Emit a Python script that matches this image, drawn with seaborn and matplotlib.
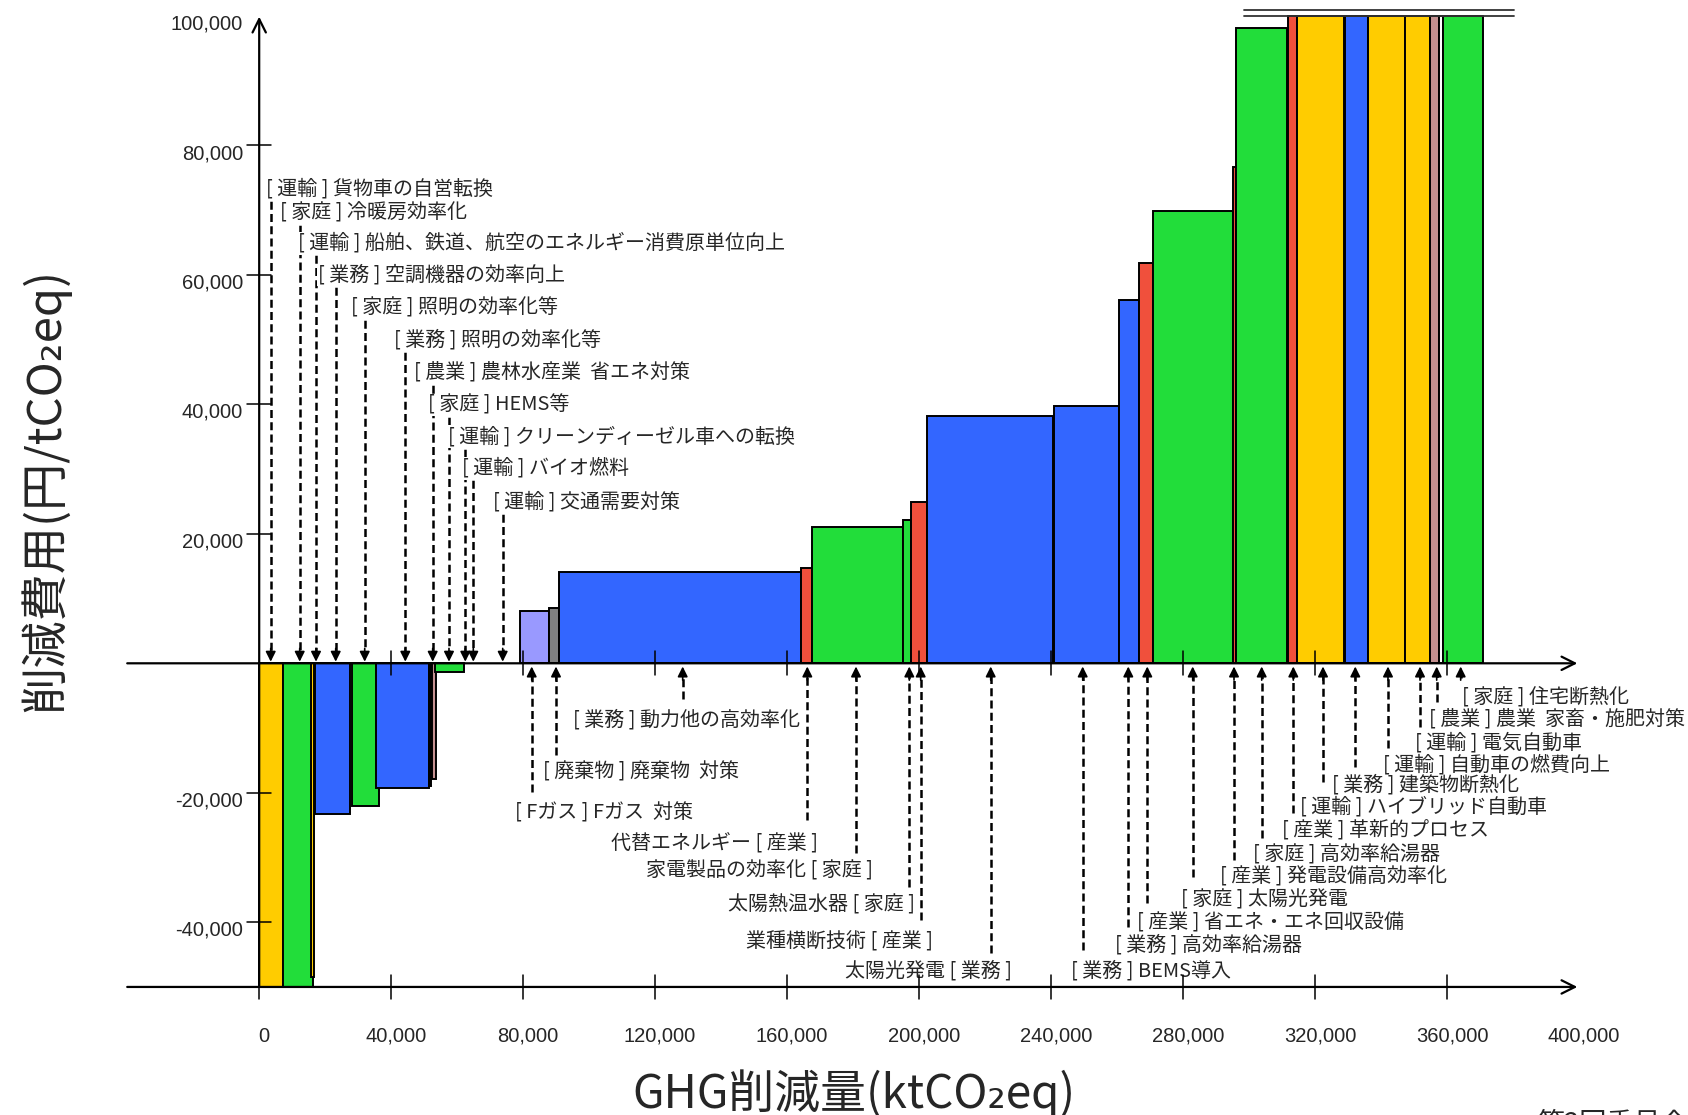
import matplotlib
matplotlib.use("Agg")
import matplotlib.pyplot as plt
import numpy as np
import pandas as pd
import seaborn as sns

# ---------------- data ----------------
# cumulative left edge of each measure (ktCO2eq), its reduction (ktCO2eq), its cost (yen/tCO2eq), sector
bar_left = [0, 7300, 15800, 17000, 28100, 35400, 51400, 52400, 53200,
            79000, 87900, 91000, 164200, 167500, 195200, 197400, 202500,
            240900, 260500, 266600, 270800, 295000, 296000, 311900, 314500,
            329200, 336100, 347400, 354900, 357700, 358700]
bar_reduction = [7300, 8900, 800, 10500, 8300, 16000, 800, 1200, 8900,
                 8900, 3100, 73200, 3300, 27700, 2200, 5100, 38000,
                 19600, 6100, 4200, 24200, 1000, 15600, 2600, 14300,
                 6900, 11300, 7500, 2800, 1000, 12300]
bar_cost = [-50000, -50000, -48400, -23300, -22100, -19300, -19000, -17900, -1300,
            8100, 8600, 14100, 14800, 21100, 22100, 24900, 38200,
            39800, 56100, 61800, 69900, 76600, 98100, 100000, 100000,
            100000, 100000, 100000, 100000, 100000, 100000]
bar_sector = ["運輸", "家庭", "運輸", "業務", "家庭", "業務", "その他", "農業", "家庭",
              "Fガス", "廃棄物", "業務", "産業", "家庭", "家庭", "産業", "業務",
              "業務", "業務", "産業", "家庭", "産業", "家庭", "産業", "運輸",
              "業務", "運輸", "運輸", "農業", "空白", "家庭"]

sector_colors = {"運輸": "#FFCC00", "家庭": "#22DD3A", "業務": "#3366FF",
                 "産業": "#F0503C", "Fガス": "#9999FF", "廃棄物": "#808080",
                 "農業": "#C49090", "その他": "#1A1A1A", "空白": "#FFFFFF"}

x_ticks = [0, 40000, 80000, 120000, 160000, 200000, 240000, 280000, 320000, 360000, 400000]
y_ticks = [-40000, -20000, 20000, 40000, 60000, 80000, 100000]

top_labels = ["[ 運輸 ] 貨物車の自営転換", "[ 家庭 ] 冷暖房効率化",
              "[ 運輸 ] 船舶、鉄道、航空のエネルギー消費原単位向上",
              "[ 業務 ] 空調機器の効率向上", "[ 家庭 ] 照明の効率化等",
              "[ 業務 ] 照明の効率化等", "[ 農業 ] 農林水産業  省エネ対策",
              "[ 家庭 ] HEMS等", "[ 運輸 ] クリーンディーゼル車への転換",
              "[ 運輸 ] バイオ燃料", "[ 運輸 ] 交通需要対策"]
bottom_labels = ["[ 業務 ] 動力他の高効率化", "[ 廃棄物 ] 廃棄物  対策", "[ Fガス ] Fガス  対策",
                 "代替エネルギー [ 産業 ]", "家電製品の効率化 [ 家庭 ]", "太陽熱温水器 [ 家庭 ]",
                 "業種横断技術 [ 産業 ]", "太陽光発電 [ 業務 ]", "[ 業務 ] BEMS導入",
                 "[ 業務 ] 高効率給湯器", "[ 産業 ] 省エネ・エネ回収設備", "[ 家庭 ] 太陽光発電",
                 "[ 産業 ] 発電設備高効率化", "[ 家庭 ] 高効率給湯器", "[ 産業 ] 革新的プロセス",
                 "[ 運輸 ] ハイブリッド自動車", "[ 業務 ] 建築物断熱化", "[ 運輸 ] 自動車の燃費向上",
                 "[ 運輸 ] 電気自動車", "[ 農業 ] 農業  家畜・施肥対策", "[ 家庭 ] 住宅断熱化"]

# ---------------- layout (annotation positions) ----------------
top_label_x = [1970, 6300, 11730, 17670, 27940, 40950, 46890, 51220, 57190, 61500, 70710]
top_label_y = [73230, 69520, 64880, 59990, 54840, 49950, 44890, 39900, 35010, 30120, 24970]
top_arrow_x = [3490, 12280, 17220, 23190, 31980, 44280, 52580, 57520, 62460, 64890, 73800]

bottom_label_x = [95200, 85920, 77530, 169450, 186120, 198760, 204310, 228060, 245950,
                  259370, 265950, 279280, 291100, 301110, 309890, 315440, 325040, 340510,
                  350300, 354640, 364450]
bottom_label_y = [-8760, -16840, -23080, -27710, -32040, -37340, -43010, -47490, -47490,
                  -43520, -40170, -36570, -33060, -29620, -25750, -22250, -18800, -15710,
                  -12360, -8760, -5160]
bottom_label_ha = ["left", "left", "left", "right", "right", "right", "right", "right", "left",
                   "left", "left", "left", "left", "left", "left", "left", "left", "left",
                   "left", "left", "left"]
bottom_arrow_x = [128350, 89950, 82590, 166120, 180880, 197030, 200480, 221700, 249580,
                  263400, 269160, 282920, 295440, 303830, 313410, 322410, 332200, 342110,
                  351810, 356870, 364140]
bottom_line_end = [-5560, -14170, -19840, -24210, -29350, -34510, -39660, -44800, -44290,
                   -40690, -37080, -32970, -30390, -27040, -23170, -18290, -15970, -13130,
                   -9790, -5930, -2320]

# ---------------- figure ----------------
sns.set_theme(style="white")
plt.rcParams["font.family"] = ["Noto Sans CJK JP", "DejaVu Sans"]
plt.rcParams["axes.unicode_minus"] = False

fig = plt.figure(figsize=(16.88, 11.15), dpi=100)
ax = fig.add_axes([0, 0, 1, 1])
ax.set_xlim(-78557, 433035)
ax.set_ylim(-69782, 102472)
ax.axis("off")

df = pd.DataFrame({"left": bar_left, "reduction": bar_reduction,
                   "cost": bar_cost, "sector": bar_sector})
for row in df.itertuples():
    ax.bar(row.left, row.cost, width=row.reduction, align="edge",
           color=sector_colors[row.sector], edgecolor="black", linewidth=1.4, zorder=2)

# axes with arrows
def axis_arrow(p0, p1):
    ax.annotate("", xy=p1, xytext=p0,
                arrowprops=dict(arrowstyle="->,head_length=0.6,head_width=0.3",
                                lw=1.6, color="black", shrinkA=0, shrinkB=0,
                                mutation_scale=16), zorder=5)

axis_arrow((0, -50000), (0, 99900))
axis_arrow((-40000, 0), (399500, 0))
axis_arrow((-40000, -50000), (399500, -50000))

tx = 1850   # half tick length in y units
ty = 3640   # half tick length in x units
for v in x_ticks[1:-1]:
    ax.plot([v, v], [-tx, tx], color="black", lw=1.1, zorder=5)
    ax.plot([v, v], [-50000 - tx, -50000 + tx], color="black", lw=1.1, zorder=5)
ax.plot([0, 0], [-50000 - tx, -50000], color="black", lw=1.1, zorder=5)
for v in y_ticks[:-1]:
    ax.plot([-ty, ty], [v, v], color="black", lw=1.1, zorder=5)

tick_font = ["Liberation Sans", "DejaVu Sans"]
for v in x_ticks:
    ax.text(v + 1500, -57600, f"{v:,}", ha="center", va="center",
            fontsize=14.5, family=tick_font)
for v in y_ticks:
    ax.text(-4900, v - 1250, f"{v:,}", ha="right", va="center",
            fontsize=14.5, family=tick_font)

# break marks at the top
ax.plot([298500, 380300], [100000, 100000], color="#333333", lw=1.3, zorder=6)
ax.plot([298500, 380300], [100930, 100930], color="#333333", lw=1.3, zorder=6)

dash = (0, (3.2, 1.7))
head = "-|>,head_length=0.6,head_width=0.3"
lab_font = ["Noto Sans CJK JP", "DejaVu Sans"]

for txt, lx, ly, axx in zip(top_labels, top_label_x, top_label_y, top_arrow_x):
    ax.plot([axx, axx], [ly, 1800], ls=dash, lw=1.8, color="black", zorder=3)
    ax.annotate("", xy=(axx, 250), xytext=(axx, 2300),
                arrowprops=dict(arrowstyle=head, color="black", lw=1.2,
                                shrinkA=0, shrinkB=0, mutation_scale=10), zorder=3)
    ax.text(lx, ly, txt, ha="left", va="center", fontsize=14.4, family=lab_font,
            zorder=4, bbox=dict(facecolor="white", edgecolor="none", pad=0.6))

for txt, lx, ly, ha, axx, ye in zip(bottom_labels, bottom_label_x, bottom_label_y,
                                     bottom_label_ha, bottom_arrow_x, bottom_line_end):
    ax.plot([axx, axx], [ye, -1800], ls=dash, lw=1.8, color="black", zorder=3)
    ax.annotate("", xy=(axx, -500), xytext=(axx, -2600),
                arrowprops=dict(arrowstyle=head, color="black", lw=1.2,
                                shrinkA=0, shrinkB=0, mutation_scale=10), zorder=3)
    ax.text(lx, ly, txt, ha=ha, va="center", fontsize=14.4, family=lab_font, zorder=4)

# axis titles
ax.text(-64920, 26770, "削減費用(円/tCO₂eq)", rotation=90, ha="center", va="center",
        fontsize=34, family=lab_font)
ax.text(180300, -68700, "GHG削減量(ktCO₂eq)", ha="center", va="baseline",
        fontsize=33, family=lab_font)

# cut-off source note at the lower right
ax.text(387180, -69150, "第2回委員会資料", ha="left", va="top", fontsize=19.5, family=lab_font)

fig.savefig("out.png", dpi=100)
